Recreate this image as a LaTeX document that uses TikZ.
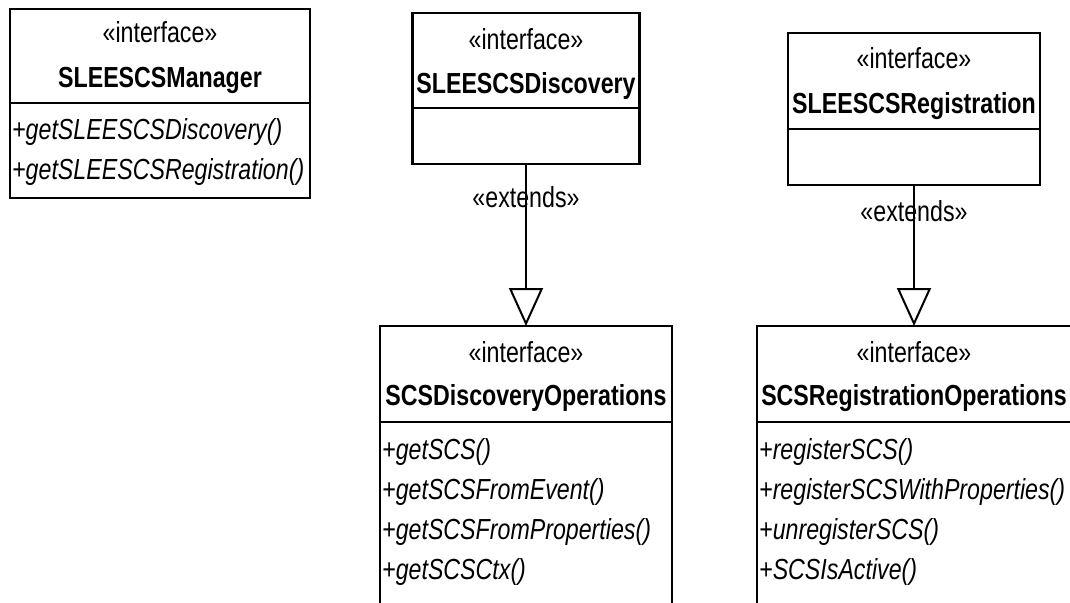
\documentclass[tikz,border=0pt]{standalone}
\usepackage{fontspec}
\setmainfont{Liberation Sans}[FakeStretch=0.8]
\usetikzlibrary{arrows.meta}

\newcommand{\umlfont}{\fontsize{29pt}{34pt}\selectfont}

\tikzset{
  classbox/.style={draw, line width=2.6pt, inner sep=0pt, outer sep=0pt},
  sepline/.style={line width=2.6pt},
  stereo/.style={anchor=base, inner sep=0pt, font=\umlfont},
  cname/.style={anchor=base, inner sep=0pt, font=\umlfont\bfseries},
  oper/.style={anchor=base west, inner sep=0pt, font=\umlfont\itshape},
  gen/.style={line width=1.4pt,
    -{Triangle[open, length=38pt, width=34pt, line width=2pt]}},
}

\begin{document}
\begin{tikzpicture}[x=1pt, y=-1pt]
  \path[use as bounding box] (0,0) rectangle (1070,602);
  \fill[white] (0,0) rectangle (1070,602);
  \clip (0,0) rectangle (1070,602);

  % SLEESCSManager
  \node[classbox, minimum width=300pt, minimum height=189pt] (mgr) at (160,103.5) {};
  \draw[sepline] (mgr.west |- 0,103) -- (mgr.east |- 0,103);
  \node[stereo] (mgrst) at (160,42) {«interface»};
  \node[cname]  (mgrnm) at (160,88) {SLEESCSManager};
  \node[oper]   (mgrop1) at (12,139) {+getSLEESCSDiscovery()};
  \node[oper]   (mgrop2) at (12,179) {+getSLEESCSRegistration()};

  % SLEESCSDiscovery
  \node[classbox, minimum width=227pt, minimum height=151pt] (disc) at (526,88.5) {};
  \draw[sepline] (disc.west |- 0,108) -- (disc.east |- 0,108);
  \node[stereo] (discst) at (526,49) {«interface»};
  \node[cname]  (discnm) at (526,93) {SLEESCSDiscovery};

  % SLEESCSRegistration
  \node[classbox, minimum width=252pt, minimum height=152pt] (reg) at (914,109) {};
  \draw[sepline] (reg.west |- 0,129) -- (reg.east |- 0,129);
  \node[stereo] (regst) at (914,68) {«interface»};
  \node[cname]  (regnm) at (914,113) {SLEESCSRegistration};

  % SCSDiscoveryOperations (continues below the page edge)
  \node[classbox, anchor=north, minimum width=292pt, minimum height=300pt] (dops) at (526,326) {};
  \draw[sepline] (dops.west |- 0,422) -- (dops.east |- 0,422);
  \node[stereo] (dopsst) at (526,362) {«interface»};
  \node[cname]  (dopsnm) at (526,405) {SCSDiscoveryOperations};
  \node[oper]   (dopsop1) at (382,459) {+getSCS()};
  \node[oper]   (dopsop2) at (382,499) {+getSCSFromEvent()};
  \node[oper]   (dopsop3) at (382,539) {+getSCSFromProperties()};
  \node[oper]   (dopsop4) at (382,579) {+getSCSCtx()};

  % SCSRegistrationOperations (continues past the right and bottom edges)
  \node[classbox, anchor=north west, minimum width=320pt, minimum height=300pt] (rops) at (757,326) {};
  \draw[sepline] (rops.west |- 0,422) -- (rops.east |- 0,422);
  \node[stereo] (ropsst) at (914,362) {«interface»};
  \node[cname]  (ropsnm) at (914,405) {SCSRegistrationOperations};
  \node[oper]   (ropsop1) at (759,459) {+registerSCS()};
  \node[oper]   (ropsop2) at (759,499) {+registerSCSWithProperties()};
  \node[oper]   (ropsop3) at (759,539) {+unregisterSCS()};
  \node[oper]   (ropsop4) at (759,579) {+SCSIsActive()};

  % generalisations
  \draw[gen] (disc.south) -- (dops.north);
  \draw[gen] (reg.south) -- (reg.south |- rops.north);
  \node[stereo] (ext1) at (526,207) {«extends»};
  \node[stereo] (ext2) at (914,221) {«extends»};
\end{tikzpicture}
\end{document}
